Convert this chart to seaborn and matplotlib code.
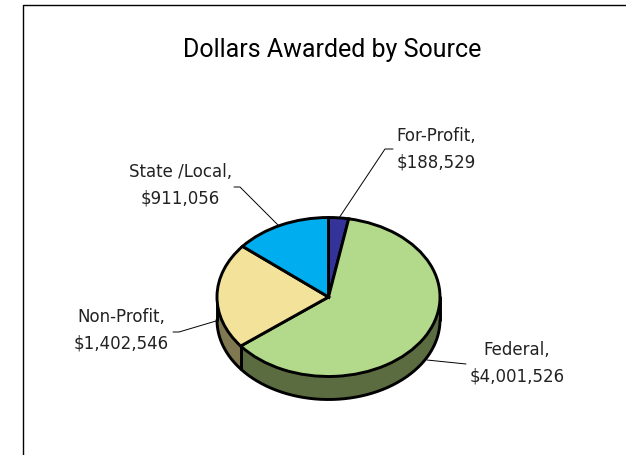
import numpy as np
import matplotlib
matplotlib.use('agg')
import matplotlib.pyplot as plt
from matplotlib.lines import Line2D
import seaborn as sns

sources = ["For-Profit", "Federal", "Non-Profit", "State /Local"]
dollars = [188529, 4001526, 1402546, 911056]
top_colors = ["#333399", "#B3D98A", "#F3E29A", "#00AEEF"]
side_colors = ["#5B6D40", "#7F7850"]

sns.set_theme(style="white")
plt.rcParams['font.family'] = ['DejaVu Sans']

W, H = 626, 455
cx, cy, rx, ry, depth = 328.5, 297, 111.5, 79.5, 23


def to_data(px, py):
    return (px - cx) / rx, (cy - py) / ry


fig = plt.figure(figsize=(W / 100, H / 100), dpi=100)
ax = fig.add_axes([0, 0, 1, 1])

# side wall first, the pie sits on top of it
d = depth / ry
frac = np.cumsum(dollars) / np.sum(dollars)
split = 90 - 360 * frac[1] + 360
t_left = np.radians(np.linspace(180, split, 80))
t_right = np.radians(np.linspace(split, 360, 200))
for t, col in [(t_left, side_colors[1]), (t_right, side_colors[0])]:
    ax.fill_between(np.cos(t), np.sin(t), np.sin(t) - d, color=col, lw=0, zorder=1)
t_all = np.radians(np.linspace(180, 360, 300))
ax.plot(np.cos(t_all), np.sin(t_all) - d, color="black", lw=2.1, zorder=2)
for a in [180, split, 360]:
    x0, y0 = np.cos(np.radians(a)), np.sin(np.radians(a))
    ax.plot([x0, x0], [y0, y0 - d], color="black", lw=2.1, zorder=2)

wedges, _ = ax.pie(dollars, colors=top_colors, startangle=90, counterclock=False,
                   radius=1, wedgeprops=dict(edgecolor="black", linewidth=2.1, zorder=3))
ax.set_aspect('auto')
ax.set_xlim(-cx / rx, (W - cx) / rx)
ax.set_ylim((cy - H) / ry, cy / ry)
ax.axis('off')

# label text, with leader line
labels = [
    (436.5, 149, [(339, 218), (385, 149), (393, 149)]),
    (517, 363, [(427, 360), (466, 364)]),
    (121.5, 330, [(216, 321), (179, 332), (173, 332)]),
    (180.5, 185, [(279, 226), (240, 187), (234, 187)]),
]
for name, val, (tx, ty, pts) in zip(sources, dollars, labels):
    xy = [to_data(*p) for p in pts]
    ax.plot([p[0] for p in xy], [p[1] for p in xy], color="black", lw=0.7, zorder=0)
    lx, ly = to_data(tx, ty)
    ax.text(lx, ly, f"{name},\n${val:,}", ha="center", va="center", fontsize=12,
            color="#222222", linespacing=1.62)

tx, ty = to_data(332, 50)
ax.text(tx, ty, "Dollars Awarded by Source", ha="center", va="center", fontsize=18,
        family="Roboto", color="black")

# chart frame, runs off the picture at right and bottom
fig.add_artist(Line2D([22.5 / W, 22.5 / W, 1], [0, 1 - 4.5 / H, 1 - 4.5 / H], color="black", lw=1))

fig.savefig("out.png", dpi=100)
